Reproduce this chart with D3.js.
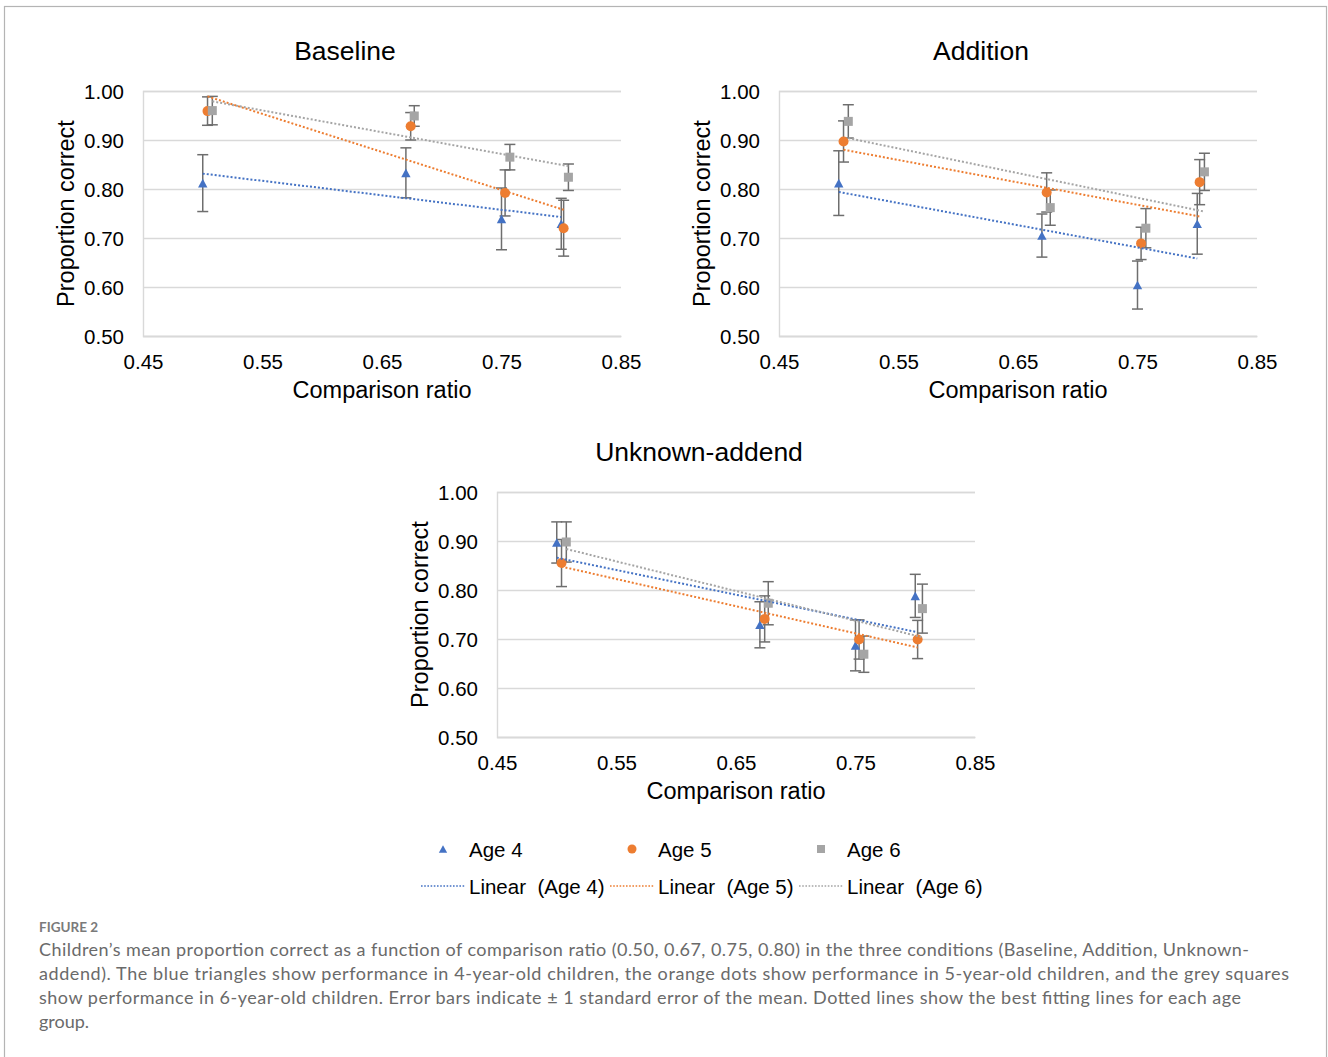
<!DOCTYPE html>
<html>
<head>
<meta charset="utf-8">
<script src="https://cdn.jsdelivr.net/npm/d3@7"></script>
<style>
  body { margin: 0; background: #fff; }
  svg { display: block; }
  .chart text { font-family: "Liberation Sans", Arial, sans-serif; fill: #000; }
  .caption text { font-family: Lato, "Open Sans", sans-serif; }
</style>
</head>
<body>
<svg id="fig" width="1328" height="1057"></svg>
<script>
// comparison ratios on the x axis (each age is nudged a little to the right, as in the original)
const xAge4 = [0.500, 0.670, 0.750, 0.800];
const xAge5 = [0.504, 0.674, 0.753, 0.802];
const xAge6 = [0.508, 0.677, 0.757, 0.806];

// Baseline condition: mean proportion correct and standard error
const baseAge4 = [0.812, 0.833, 0.739, 0.729];
const baseSe4  = [0.058, 0.051, 0.063, 0.052];
const baseAge5 = [0.959, 0.928, 0.792, 0.720];
const baseSe5  = [0.029, 0.028, 0.047, 0.057];
const baseAge6 = [0.960, 0.949, 0.865, 0.824];
const baseSe6  = [0.029, 0.021, 0.026, 0.027];

// Addition condition
const addAge4 = [0.812, 0.705, 0.604, 0.729];
const addSe4  = [0.066, 0.044, 0.049, 0.062];
const addAge5 = [0.897, 0.793, 0.689, 0.814];
const addSe5  = [0.042, 0.040, 0.033, 0.046];
const addAge6 = [0.938, 0.762, 0.720, 0.835];
const addSe6  = [0.034, 0.036, 0.040, 0.038];

// Unknown-addend condition
const unkAge4 = [0.897, 0.729, 0.687, 0.788];
const unkSe4  = [0.042, 0.047, 0.052, 0.044];
const unkAge5 = [0.855, 0.741, 0.699, 0.699];
const unkSe5  = [0.048, 0.047, 0.040, 0.039];
const unkAge6 = [0.898, 0.773, 0.669, 0.762];
const unkSe6  = [0.041, 0.044, 0.037, 0.050];

const xTicks = [0.45, 0.55, 0.65, 0.75, 0.85];
const yTicks = [0.50, 0.60, 0.70, 0.80, 0.90, 1.00];
const seriesNames = ['Age 4', 'Age 5', 'Age 6'];
const seriesColors = ['#4472C4', '#ED7D31', '#A5A5A5'];
const seriesShapes = ['triangle', 'circle', 'square'];

const captionTitle = 'FIGURE 2';
const captionLines = [
  'Children\u2019s mean proportion correct as a function of comparison ratio (0.50, 0.67, 0.75, 0.80) in the three conditions (Baseline, Addition, Unknown-',
  'addend). The blue triangles show performance in 4-year-old children, the orange dots show performance in 5-year-old children, and the grey squares',
  'show performance in 6-year-old children. Error bars indicate \u00B1 1 standard error of the mean. Dotted lines show the best fitting lines for each age',
  'group.'
];

const svg = d3.select('#fig');

// outer frame
svg.append('rect')
   .attr('x', 4.5).attr('y', 6.5)
   .attr('width', 1322).attr('height', 1070)
   .attr('fill', 'none')
   .attr('stroke', '#b4b4b4')
   .attr('stroke-width', 1.2);

const chart = svg.append('g').attr('class', 'chart');

const marker = (sel, shape, color, s) => {
  if (shape === 'triangle') {
    sel.append('path')
       .attr('d', `M0,${-s * 0.48}L${s * 0.52},${s * 0.48}L${-s * 0.52},${s * 0.48}Z`)
       .attr('fill', color);
  } else if (shape === 'circle') {
    sel.append('circle').attr('r', s / 2).attr('fill', color);
  } else {
    sel.append('rect')
       .attr('x', -s / 2).attr('y', -s / 2)
       .attr('width', s).attr('height', s)
       .attr('fill', color);
  }
};

const linreg = (xs, ys) => {
  const mx = d3.mean(xs), my = d3.mean(ys);
  const sxy = d3.sum(xs, (v, i) => (v - mx) * (ys[i] - my));
  const sxx = d3.sum(xs, v => (v - mx) * (v - mx));
  const slope = sxy / sxx;
  return v => my + slope * (v - mx);
};

const drawPanel = (title, left, top, series) => {
  const width = 478, height = 245;
  const x = d3.scaleLinear().domain([0.45, 0.85]).range([left, left + width]);
  const y = d3.scaleLinear().domain([0.5, 1.0]).range([top + height, top]);
  const g = chart.append('g');

  const yAxis = d3.axisLeft(y)
                  .tickValues(yTicks)
                  .tickFormat(d3.format('.2f'))
                  .tickSize(-width)
                  .tickPadding(19);
  const ya = g.append('g').attr('transform', `translate(${left},0)`).call(yAxis);
  ya.select('.domain').attr('stroke', '#d9d9d9').attr('stroke-width', 1.4);
  ya.selectAll('.tick line').attr('stroke', '#d9d9d9').attr('stroke-width', 1.4);
  ya.selectAll('.tick text').attr('font-size', 20.5).attr('dy', '0.36em');

  const xAxis = d3.axisBottom(x)
                  .tickValues(xTicks)
                  .tickFormat(d3.format('.2f'))
                  .tickSize(0)
                  .tickPadding(18);
  const xa = g.append('g').attr('transform', `translate(0,${top + height})`).call(xAxis);
  xa.select('.domain').attr('stroke', '#d9d9d9').attr('stroke-width', 1.4);
  xa.selectAll('.tick text').attr('font-size', 20.5);
  ya.attr('font-family', null); xa.attr('font-family', null);

  g.append('text')
   .attr('x', left + 202).attr('y', top - 31)
   .attr('text-anchor', 'middle')
   .attr('font-size', 26.5)
   .text(title);

  g.append('text')
   .attr('transform', `translate(${left - 69},${top + height / 2}) rotate(-90)`)
   .attr('text-anchor', 'middle')
   .attr('font-size', 23.5)
   .text('Proportion correct');

  g.append('text')
   .attr('x', left + width / 2).attr('y', top + height + 62)
   .attr('text-anchor', 'middle')
   .attr('font-size', 23.5)
   .text('Comparison ratio');

  // error bars
  series.forEach(s => {
    const eb = g.append('g').attr('stroke', '#6e6e6e').attr('stroke-width', 1.5);
    s.xs.forEach((xv, i) => {
      const hi = y(s.ys[i] + s.se[i]), lo = y(s.ys[i] - s.se[i]), cx = x(xv);
      eb.append('line').attr('x1', cx).attr('x2', cx).attr('y1', hi).attr('y2', lo);
      eb.append('line').attr('x1', cx - 5.5).attr('x2', cx + 5.5).attr('y1', hi).attr('y2', hi);
      eb.append('line').attr('x1', cx - 5.5).attr('x2', cx + 5.5).attr('y1', lo).attr('y2', lo);
    });
  });

  // markers
  series.forEach(s => {
    s.xs.forEach((xv, i) => {
      const m = g.append('g').attr('transform', `translate(${x(xv)},${y(s.ys[i])})`);
      marker(m, s.shape, s.color, s.shape === 'circle' ? 10 : 9);
    });
  });

  // dotted best-fit lines
  series.forEach(s => {
    const f = linreg(s.xs, s.ys);
    const x0 = s.xs[0], x1 = s.xs[s.xs.length - 1];
    g.append('line')
     .attr('x1', x(x0)).attr('y1', y(f(x0)))
     .attr('x2', x(x1)).attr('y2', y(f(x1)))
     .attr('stroke', s.color)
     .attr('stroke-width', 2)
     .attr('stroke-dasharray', '2 2');
  });
};

const mk = (a4, e4, a5, e5, a6, e6) => [
  { xs: xAge4, ys: a4, se: e4, color: seriesColors[0], shape: seriesShapes[0] },
  { xs: xAge5, ys: a5, se: e5, color: seriesColors[1], shape: seriesShapes[1] },
  { xs: xAge6, ys: a6, se: e6, color: seriesColors[2], shape: seriesShapes[2] }
];

drawPanel('Baseline', 143, 91, mk(baseAge4, baseSe4, baseAge5, baseSe5, baseAge6, baseSe6));
drawPanel('Addition', 779, 91, mk(addAge4, addSe4, addAge5, addSe5, addAge6, addSe6));
drawPanel('Unknown-addend', 497, 492, mk(unkAge4, unkSe4, unkAge5, unkSe5, unkAge6, unkSe6));

// legend
const legX = [443, 632, 821];
const leg = chart.append('g');
seriesNames.forEach((name, i) => {
  const m = leg.append('g').attr('transform', `translate(${legX[i]},849)`);
  marker(m, seriesShapes[i], seriesColors[i], seriesShapes[i] === 'circle' ? 9 : 8);
  leg.append('text')
     .attr('x', legX[i] + 26).attr('y', 857)
     .attr('font-size', 20.5)
     .text(name);
  leg.append('line')
     .attr('x1', legX[i] - 22).attr('x2', legX[i] + 22)
     .attr('y1', 886).attr('y2', 886)
     .attr('stroke', seriesColors[i])
     .attr('stroke-width', 1.6)
     .attr('stroke-dasharray', '1.6 1.6');
  leg.append('text')
     .attr('x', legX[i] + 26).attr('y', 894)
     .attr('font-size', 20.5)
     .attr('xml:space', 'preserve')
     .style('white-space', 'pre')
     .text(`Linear  (${name})`);
});

// caption
const cap = svg.append('g').attr('class', 'caption');
cap.append('text')
   .attr('x', 39).attr('y', 932)
   .attr('font-size', 13.5)
   .attr('font-weight', 700)
   .attr('fill', '#7a7a7a')
   .text(captionTitle);
const capWidths = [1210, 1250, 1202, null];
captionLines.forEach((line, i) => {
  const t = cap.append('text')
     .attr('x', 39).attr('y', 956 + i * 24)
     .attr('font-size', 18)
     .attr('fill', '#6a6a6a')
     .text(line);
  if (capWidths[i]) t.attr('textLength', capWidths[i]).attr('lengthAdjust', 'spacing');
});
</script>
</body>
</html>
